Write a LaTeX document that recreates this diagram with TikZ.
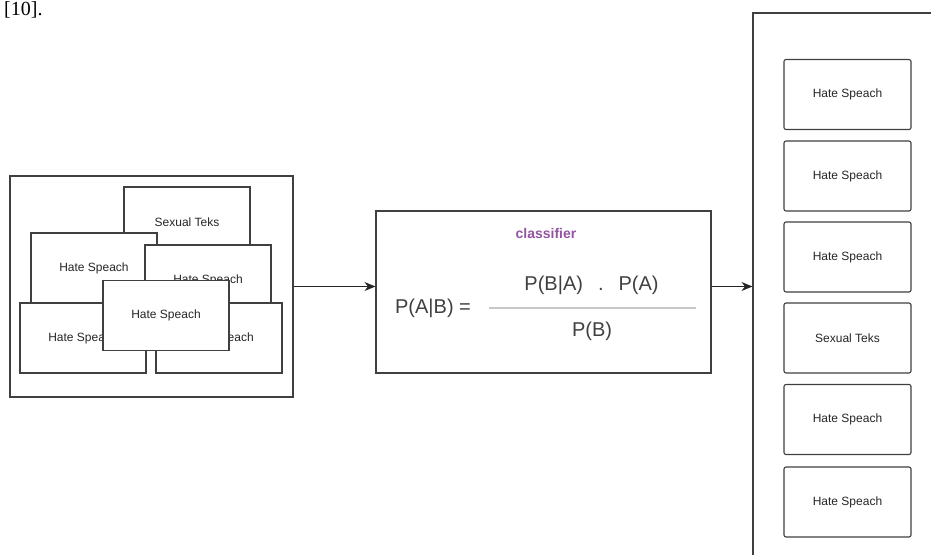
\documentclass[tikz,border=0pt]{standalone}
\usepackage{fontspec}
\setmainfont{Liberation Sans}
\newfontfamily\serifref{Liberation Serif}
\usetikzlibrary{shapes.geometric,arrows,arrows.meta,positioning,calc}
\definecolor{purple}{rgb}{0.58,0.33,0.64}
\definecolor{linegray}{rgb}{0.25,0.25,0.25}
\definecolor{bargray}{rgb}{0.78,0.78,0.78}
\tikzstyle{container} = [rectangle, draw = linegray, line width = 1.1pt, fill = white]
\tikzstyle{doc} = [rectangle, minimum width = 126pt, minimum height = 70pt, text centered, draw = linegray, line width = 1.1pt, fill = white, font = \fontsize{12}{14}\selectfont, text = black!85]
\tikzstyle{item} = [doc, rounded corners = 2pt, minimum width = 127pt]
\tikzstyle{formula} = [font = \fontsize{20}{24}\selectfont, text = black!75, inner sep = 0pt]
\tikzstyle{arrow} = [-{Stealth[length = 11pt, width = 9pt]}, line width = 1.1pt, draw = black!85]

\begin{document}
\begin{tikzpicture}[x=1pt, y=-1pt]
    \useasboundingbox (0,0) rectangle (931,554);
    \clip (0,0) rectangle (931,554);

    \node (ref) [anchor=base west, font=\serifref\fontsize{20}{24}\selectfont, inner sep=0pt] at (4,16) {[10].};

    % input documents
    \node (inbox) [container, minimum width = 283pt, minimum height = 221pt] at (151.5,286.5) {};
    \node (sexual-in) [doc] at (187,222) {Sexual Teks};
    \node (hate-back) [doc] at (94,268) {Hate Speach};
    \node (hate-mid) [doc] at (208,280) {Hate Speach};
    \node (hate-right) [doc] at (219,338) {Hate Speach};
    \node (hate-front) [doc] at (83,338) {Hate Speach};
    \node (hate-top) [doc] at (166,315.5) {Hate Speach};

    % classifier
    \node (classifier) [container, minimum width = 335pt, minimum height = 162pt] at (543.5,292) {};
    \node (title) [text = purple, font = \bfseries\fontsize{14}{16}\selectfont] at (546,233) {classifier};
    \node (lhs) [formula] at (433,308) {P(A|B) =};
    \node (num) [formula] at (591.5,285) {P(B|A)\hspace{0.75em}.\hspace{0.75em}P(A)};
    \node (den) [formula] at (592,331) {P(B)};
    \coordinate (bar-l) at (489,308);
    \coordinate (bar-r) at (696,308);
    \draw [bargray, line width = 2pt] (bar-l) -- (bar-r);

    % output documents
    \node (outbox) [container, minimum width = 300pt, minimum height = 600pt] at (903,313) {};
    \node (out-1) [item] at (847.5,94.5) {Hate Speach};
    \node (out-2) [item] at (847.5,176) {Hate Speach};
    \node (out-3) [item] at (847.5,257) {Hate Speach};
    \node (out-4) [item] at (847.5,338) {Sexual Teks};
    \node (out-5) [item] at (847.5,419.5) {Hate Speach};
    \node (out-6) [item] at (847.5,502) {Hate Speach};

    \draw [arrow] (inbox.east) -- (inbox.east -| classifier.west);
    \draw [arrow] (classifier.east |- inbox.east) -- (inbox.east -| outbox.west);
\end{tikzpicture}
\end{document}
